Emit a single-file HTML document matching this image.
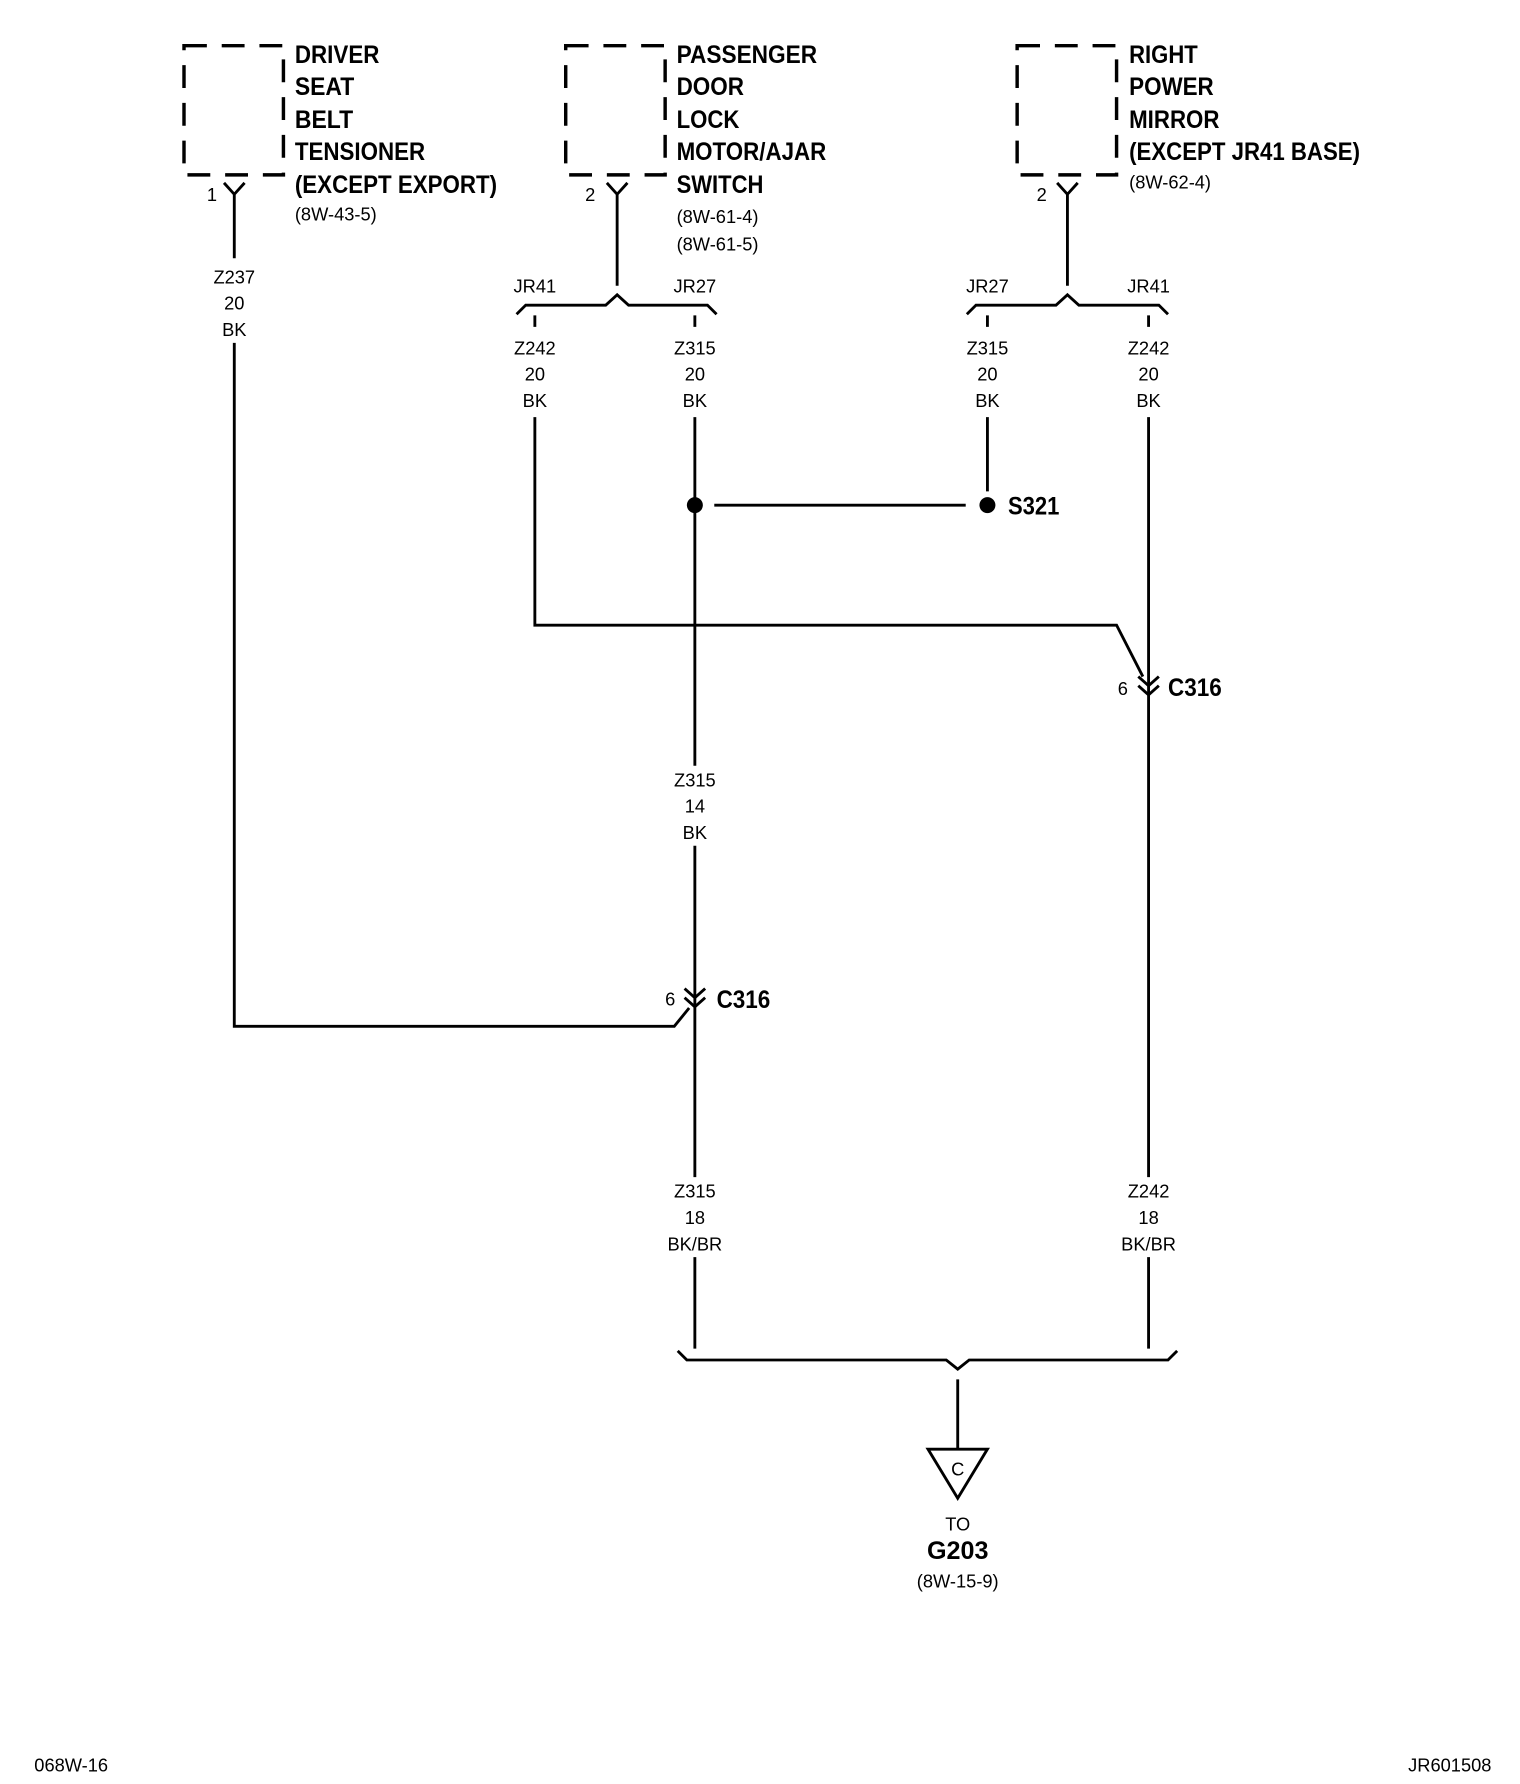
<!DOCTYPE html>
<html><head><meta charset="utf-8"><style>html,body{margin:0;padding:0;background:#fff}svg{display:block}</style></head>
<body>
<svg width="1520" height="1784" viewBox="0 0 1330 1561" xmlns="http://www.w3.org/2000/svg" font-family="Liberation Sans, Arial, sans-serif">
<g fill="none" stroke="#000" stroke-width="3">
  <rect x="161" y="40" width="87" height="113" stroke-dasharray="20,13"/>
  <rect x="495" y="40" width="87" height="113" stroke-dasharray="20,13"/>
  <rect x="890" y="40" width="87" height="113" stroke-dasharray="20,13"/>
</g>
<g fill="none" stroke="#000" stroke-width="2.5">
  <path d="M196 160 L205 170 L214 160 M205 170 V226"/>
  <path d="M531 160 L540 170 L549 160 M540 170 V250"/>
  <path d="M925 160 L934 170 L943 160 M934 170 V250"/>
  <path d="M452 275 L460 267 H530 L540 258 L550 267 H619 L627 275"/>
  <path d="M846 275 L854 267 H924 L934 258 L944 267 H1014 L1022 275"/>
  <path d="M468 276 V286 M608 276 V286 M864 276 V286 M1005 276 V286"/>
  <path d="M205 300 V898 H590 L603 882"/>
  <path d="M468 365 V547 H977 L1000 592"/>
  <path d="M608 365 V670"/>
  <path d="M625 442 H845"/>
  <path d="M864 365 V430"/>
  <path d="M1005 365 V1030 M1005 1100 V1180"/>
  <path d="M608 740 V1030 M608 1100 V1180"/>
  <path d="M996 592 L1005 600 L1014 592 M996 600 L1005 608 L1014 600"/>
  <path d="M599 865 L608 873 L617 865 M599 873 L608 881 L617 873"/>
  <path d="M593 1182 L601 1190 H828 L838 1198 L848 1190 H1022 L1030 1182"/>
  <path d="M838 1207 V1268"/>
  <path d="M812 1268 H864 L838 1311 Z"/>
</g>
<circle cx="608" cy="442" r="7"/>
<circle cx="864" cy="442" r="7"/>
<g font-weight="bold" font-size="22" lengthAdjust="spacingAndGlyphs">
  <text x="258" y="55" textLength="74" lengthAdjust="spacingAndGlyphs">DRIVER</text><text x="258" y="83" textLength="52" lengthAdjust="spacingAndGlyphs">SEAT</text><text x="258" y="112" textLength="51" lengthAdjust="spacingAndGlyphs">BELT</text><text x="258" y="140" textLength="114" lengthAdjust="spacingAndGlyphs">TENSIONER</text><text x="258" y="169" textLength="177" lengthAdjust="spacingAndGlyphs">(EXCEPT EXPORT)</text>
  <text x="592" y="55" textLength="123" lengthAdjust="spacingAndGlyphs">PASSENGER</text><text x="592" y="83" textLength="59" lengthAdjust="spacingAndGlyphs">DOOR</text><text x="592" y="112" textLength="55" lengthAdjust="spacingAndGlyphs">LOCK</text><text x="592" y="140" textLength="131" lengthAdjust="spacingAndGlyphs">MOTOR/AJAR</text><text x="592" y="169" textLength="76" lengthAdjust="spacingAndGlyphs">SWITCH</text>
  <text x="988" y="55" textLength="60" lengthAdjust="spacingAndGlyphs">RIGHT</text><text x="988" y="83" textLength="74" lengthAdjust="spacingAndGlyphs">POWER</text><text x="988" y="112" textLength="79" lengthAdjust="spacingAndGlyphs">MIRROR</text><text x="988" y="140" textLength="202" lengthAdjust="spacingAndGlyphs">(EXCEPT JR41 BASE)</text>
  <text x="882" y="450" textLength="45" lengthAdjust="spacingAndGlyphs">S321</text>
  <text x="1022" y="609" textLength="47" lengthAdjust="spacingAndGlyphs">C316</text>
  <text x="627" y="882" textLength="47" lengthAdjust="spacingAndGlyphs">C316</text>
  <text x="838" y="1364" text-anchor="middle">G203</text>
</g>
<g font-size="16">
  <text x="258" y="193">(8W-43-5)</text>
  <text x="592" y="195">(8W-61-4)</text><text x="592" y="219">(8W-61-5)</text>
  <text x="988" y="165">(8W-62-4)</text>
  <text x="181" y="176">1</text><text x="512" y="176">2</text><text x="907" y="176">2</text>
  <text x="978" y="608">6</text><text x="582" y="880">6</text>
</g>
<g font-size="16" text-anchor="middle">
  <text x="205" y="248">Z237</text><text x="205" y="271">20</text><text x="205" y="294">BK</text>
  <text x="468" y="256">JR41</text><text x="608" y="256">JR27</text>
  <text x="864" y="256">JR27</text><text x="1005" y="256">JR41</text>
  <text x="468" y="310">Z242</text><text x="468" y="333">20</text><text x="468" y="356">BK</text>
  <text x="608" y="310">Z315</text><text x="608" y="333">20</text><text x="608" y="356">BK</text>
  <text x="864" y="310">Z315</text><text x="864" y="333">20</text><text x="864" y="356">BK</text>
  <text x="1005" y="310">Z242</text><text x="1005" y="333">20</text><text x="1005" y="356">BK</text>
  <text x="608" y="688">Z315</text><text x="608" y="711">14</text><text x="608" y="734">BK</text>
  <text x="608" y="1048">Z315</text><text x="608" y="1071">18</text><text x="608" y="1094">BK/BR</text>
  <text x="1005" y="1048">Z242</text><text x="1005" y="1071">18</text><text x="1005" y="1094">BK/BR</text>
  <text x="838" y="1291">C</text>
  <text x="838" y="1339">TO</text>
  <text x="838" y="1389">(8W-15-9)</text>
</g>
<g font-size="16">
  <text x="30" y="1550">068W-16</text>
  <text x="1305" y="1550" text-anchor="end">JR601508</text>
</g>
</svg>
</body></html>
